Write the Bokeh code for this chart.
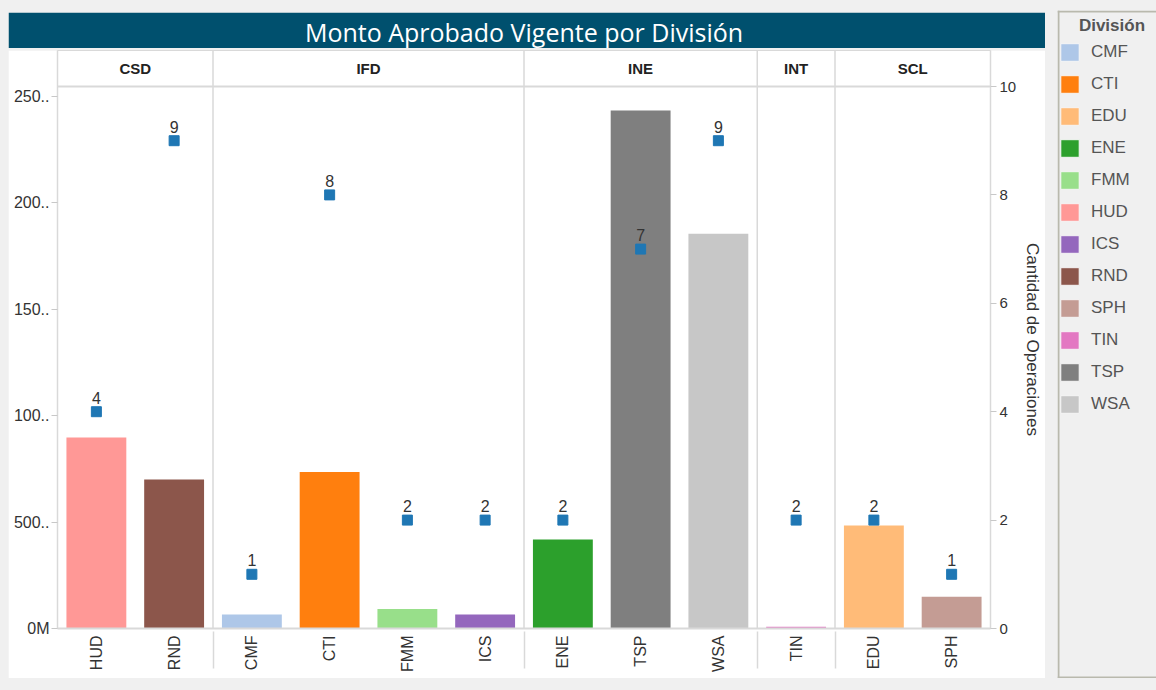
import math
from bokeh.plotting import figure
from bokeh.models import (FactorRange, Range1d, LinearAxis, ColumnDataSource, Span,
                          Spacer, FixedTicker, Legend, LegendItem)
from bokeh.layouts import row, column
from bokeh.embed import file_html
from bokeh.resources import INLINE
from bokeh.core.properties import value

# ---------------- data ----------------
title_text = "Monto Aprobado Vigente por División"
divisions = ["CSD", "CSD", "IFD", "IFD", "IFD", "IFD", "INE", "INE", "INE", "INT", "SCL", "SCL"]
subdivisions = ["HUD", "RND", "CMF", "CTI", "FMM", "ICS", "ENE", "TSP", "WSA", "TIN", "EDU", "SPH"]
monto_aprobado_m = [89.7, 70.0, 6.6, 73.6, 9.2, 6.6, 41.8, 243.4, 185.5, 0.8, 48.4, 14.9]
cantidad_operaciones = [4, 9, 1, 8, 2, 2, 2, 7, 9, 2, 2, 1]
legend_names = ["CMF", "CTI", "EDU", "ENE", "FMM", "HUD", "ICS", "RND", "SPH", "TIN", "TSP", "WSA"]
legend_colors = ["#aec7e8", "#ff7f0e", "#ffbb78", "#2ca02c", "#98df8a", "#ff9896",
                 "#9467bd", "#8c564b", "#c49c94", "#e377c2", "#7f7f7f", "#c7c7c7"]
monto_ticks = [0, 50, 100, 150, 200, 250]
monto_tick_labels = ["0M", "500..", "100..", "150..", "200..", "250.."]
oper_ticks = [0, 2, 4, 6, 8, 10]
legend_title = "División"
right_axis_title = "Cantidad de Operaciones"

# ---------------- style / layout constants ----------------
FONT = "Liberation Sans"
GRID = "#d9d9d9"
TXT = "#333333"
BG = "#f0f0f0"
CHART_W = 1037
MAIN_H = 628          # header row + plot area + category labels
FRAME_H = 578         # header row + plot area
HEADER_H = 36
PX_PER_M = 2.128      # pixels per million (left scale)
PX_PER_OP = 54.2      # pixels per operation (right scale)
monto_top = FRAME_H / PX_PER_M
plot_top = (FRAME_H - HEADER_H) / PX_PER_M
ops_top = FRAME_H / PX_PER_OP

color_of = dict(zip(legend_names, legend_colors))
factors = list(zip(divisions, subdivisions))
division_names = list(dict.fromkeys(divisions))
bounds = [0]
for d in division_names:
    bounds.append(bounds[-1] + divisions.count(d))

xr = FactorRange(factors=factors, factor_padding=0, group_padding=0,
                 subgroup_padding=0, range_padding=0)

src = ColumnDataSource(dict(
    x=factors,
    monto=monto_aprobado_m,
    ops=cantidad_operaciones,
    ops_label=[str(v) for v in cantidad_operaciones],
    color=[color_of[s] for s in subdivisions],
))

# ---------------- main chart (header row + plot) ----------------
p = figure(width=CHART_W, height=MAIN_H, x_range=xr, y_range=Range1d(0, monto_top),
           output_backend="svg", toolbar_location=None, tools="",
           min_border_left=49, min_border_right=53, min_border_top=0, min_border_bottom=50,
           background_fill_color="white", border_fill_color="white",
           outline_line_color=GRID)
p.extra_y_ranges = {"ops": Range1d(0, ops_top)}
p.xgrid.visible = False
p.ygrid.visible = False

p.vbar(x="x", top="monto", width=0.77, fill_color="color", line_color=None, source=src)
p.scatter(x="x", y="ops", marker="square", size=10, fill_color="#1f77b4",
          line_color="#1f77b4", y_range_name="ops", source=src)
p.text(x="x", y="ops", text="ops_label", y_range_name="ops", source=src,
       text_align="center", text_baseline="alphabetic", y_offset=-14,
       text_font=value(FONT), text_font_size="16px", text_color=TXT)

# panel separators and header row
for b in bounds[1:-1]:
    p.add_layout(Span(location=b, dimension="height", line_color=GRID, line_width=1.5))
p.add_layout(Span(location=plot_top, dimension="width", line_color=GRID, line_width=2))
p.text(x=division_names, y=[(plot_top + monto_top) / 2] * len(division_names),
       text=division_names, text_align="center", text_baseline="middle",
       text_font=value(FONT), text_font_size="15px", text_font_style="bold",
       text_color="#222222")

ly = p.yaxis[0]
ly.ticker = FixedTicker(ticks=monto_ticks)
ly.major_label_overrides = dict(zip(monto_ticks, monto_tick_labels))

ry = LinearAxis(y_range_name="ops", ticker=FixedTicker(ticks=oper_ticks),
                axis_label=right_axis_title)
p.add_layout(ry, "right")

for ax in (ly, ry):
    ax.major_tick_in = 0
    ax.major_tick_out = 6
    ax.minor_tick_line_color = None
    ax.axis_line_color = GRID
    ax.axis_line_width = 1.5
    ax.major_tick_line_color = "#c8c8c8"
    ax.major_label_standoff = 3
    ax.major_label_text_font = FONT
    ax.major_label_text_color = TXT
ly.major_label_text_font_size = "16px"
ly.major_label_standoff = 2
ry.major_label_text_font_size = "15px"
ry.axis_label_text_font = FONT
ry.axis_label_text_font_size = "17px"
ry.axis_label_text_font_style = "normal"
ry.axis_label_text_color = TXT
ry.axis_label_standoff = 4

bx = p.xaxis[0]
bx.major_label_orientation = math.pi / 2
bx.major_label_text_font = FONT
bx.major_label_text_font_size = "16px"
bx.major_label_text_color = TXT
bx.major_label_standoff = 7
bx.major_tick_out = 0
bx.major_tick_in = 0
bx.major_tick_line_color = None
bx.axis_line_color = GRID
bx.axis_line_width = 2
bx.separator_line_color = GRID
bx.separator_line_width = 1.5
bx.group_text_color = None
bx.group_text_font_size = "1px"

# ---------------- title bar ----------------
tf = figure(width=CHART_W, height=36, title=title_text, x_range=Range1d(0, 1), y_range=Range1d(0, 1),
            output_backend="svg", toolbar_location=None, tools="",
            x_axis_location=None, y_axis_location=None, min_border=0,
            background_fill_color="#00506e", border_fill_color="#00506e",
            outline_line_color=None)
tf.xgrid.visible = False
tf.ygrid.visible = False
tf.title.align = "center"
tf.title.text_color = "white"
tf.title.text_font = "Open Sans"
tf.title.text_font_size = "25px"
tf.title.text_font_style = "normal"
tf.title.standoff = 0

# ---------------- legend ----------------
LEG_W, LEG_H = 99, 668
lp = figure(width=LEG_W, height=LEG_H, x_range=Range1d(0, LEG_W), y_range=Range1d(0, LEG_H),
            output_backend="svg", toolbar_location=None, tools="",
            x_axis_location=None, y_axis_location=None, min_border=0,
            background_fill_color=BG, border_fill_color=BG, outline_line_color=None)
lp.xgrid.visible = False
lp.ygrid.visible = False
for loc, dim in ((1, "height"), (LEG_H - 1, "width"), (1, "width")):
    lp.add_layout(Span(location=loc, dimension=dim, line_color="#b9b9ad", line_width=2))

nan = float("nan")
n = len(legend_names)
lsrc = ColumnDataSource(dict(name=legend_names, color=legend_colors,
                             l=[nan] * n, r=[nan] * n, t=[nan] * n, b=[nan] * n))
sw = lp.quad(left="l", right="r", top="t", bottom="b", fill_color="color",
             line_color="#f6f6f6", source=lsrc)
items = [LegendItem(label=nm, renderers=[sw], index=i) for i, nm in enumerate(legend_names)]
ROW, GAP, PAD = 22, 10, 5
leg_h = 2 * PAD + n * ROW + (n - 1) * GAP
lg = Legend(items=items, location=(1, LEG_H - 21 - leg_h), padding=PAD, margin=0,
            glyph_width=23, glyph_height=ROW, label_height=ROW, spacing=GAP,
            label_standoff=10, label_text_font=FONT, label_text_font_size="17px",
            label_text_color="#555555", background_fill_alpha=0, border_line_color=None)
lp.add_layout(lg)
lp.text(x=[LEG_W * 0.55], y=[LEG_H - 14.5], text=[legend_title], text_align="center",
        text_baseline="middle", text_font=value(FONT), text_font_size="17px",
        text_font_style="bold", text_color="#555555")

left_col = column(Spacer(width=CHART_W, height=12), tf, Spacer(width=CHART_W, height=2), p,
                  Spacer(width=CHART_W, height=12), spacing=0)
right_col = column(Spacer(width=LEG_W, height=10), lp, Spacer(width=LEG_W, height=12), spacing=0)
root = row(Spacer(width=8, height=690), left_col, Spacer(width=12, height=690), right_col,
           spacing=0, styles={"background-color": BG})

open("out.html", "w").write(file_html(root, INLINE))
